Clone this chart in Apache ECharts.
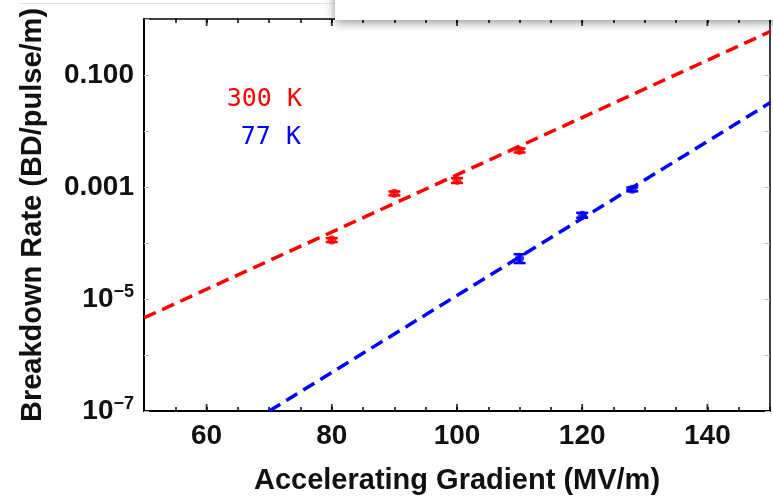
<!DOCTYPE html>
<html>
<head>
<meta charset="utf-8">
<script src="https://cdn.jsdelivr.net/npm/echarts@6/dist/echarts.min.js"></script>
<style>
  html, body { margin: 0; padding: 0; background: #fff; }
  #chart { width: 773px; height: 500px; }
</style>
</head>
<body>
<div id="chart"></div>
<script>
// measured points (gradient MV/m, breakdown rate, relative error)
const warmX = [80, 90, 100, 110];
const warmY = [1.13e-4, 7.7e-4, 1.31e-3, 4.5e-3];
const warmErr = [0.08, 0.08, 0.1, 0.08];

const coldX = [110, 120, 128];
const coldY = [5.35e-5, 3.14e-4, 9.1e-4];
const coldErr = [0.18, 0.1, 0.08];

// dashed fits, given by end points
const warmFit = [[50, 4.6e-6], [150, 0.594]];
const coldFit = [[70, 1e-7], [150, 0.0318]];

const majorTicks = [60, 80, 100, 120, 140];

const RED = '#ff0000';
const BLUE = '#0000ff';
const FONT = '"Liberation Sans", Arial, sans-serif';

const chart = echarts.init(document.getElementById('chart'));

const pts = (xs, ys, es) => xs.map((x, i) => [x, ys[i], es[i]]);

const errBars = (name, data, color) => ({
  name: name,
  type: 'custom',
  silent: true,
  z: 4,
  data: data,
  renderItem: (params, api) => {
    const x = api.value(0), y = api.value(1), e = api.value(2);
    const lo = api.coord([x, y * (1 - e)]);
    const hi = api.coord([x, y * (1 + e)]);
    const w = 6;
    const style = { stroke: color, lineWidth: 2.5 };
    return {
      type: 'group',
      children: [
        { type: 'line', shape: { x1: lo[0], y1: lo[1], x2: hi[0], y2: hi[1] }, style: style },
        { type: 'line', shape: { x1: lo[0] - w, y1: lo[1], x2: lo[0] + w, y2: lo[1] }, style: style },
        { type: 'line', shape: { x1: hi[0] - w, y1: hi[1], x2: hi[0] + w, y2: hi[1] }, style: style }
      ]
    };
  }
});

const yLabel = v => {
  const p = Math.round(Math.log10(v));
  if (p % 2 === 0) return '';
  if (p === -1) return '0.100';
  if (p === -3) return '0.001';
  return '10{sup|\u2212' + (-p) + '}';
};

const option = {
  animation: false,
  grid: { left: 144, right: 1, top: 19, bottom: 88, containLabel: false },
  xAxis: [
    {
      type: 'value', position: 'bottom', min: 50, max: 150, interval: 5,
      name: 'Accelerating Gradient (MV/m)', nameLocation: 'middle', nameGap: 55,
      nameTextStyle: { fontFamily: FONT, fontWeight: 'bold', fontSize: 29, color: '#111' },
      axisLine: { lineStyle: { color: '#000', width: 2 } },
      axisTick: { inside: true, length: 4, lineStyle: { color: '#000', width: 1.5 } },
      axisLabel: {
        margin: 11, fontFamily: FONT, fontWeight: 'bold', fontSize: 28, color: '#111',
        formatter: v => majorTicks.includes(v) ? String(v) : ''
      },
      splitLine: { show: false }
    },
    {
      type: 'value', position: 'top', min: 50, max: 150, interval: 5,
      axisLine: { lineStyle: { color: '#000', width: 1.5 } },
      axisTick: { inside: true, length: 4, lineStyle: { color: '#000', width: 1.5 } },
      axisLabel: { show: false },
      splitLine: { show: false }
    }
  ],
  yAxis: [
    {
      type: 'log', logBase: 10, min: 1e-7, max: 1, interval: 1,
      name: 'Breakdown Rate (BD/pulse/m)', nameLocation: 'middle', nameGap: 97, nameRotate: 90,
      nameTextStyle: { fontFamily: FONT, fontWeight: 'bold', fontSize: 29, color: '#111' },
      axisLine: { lineStyle: { color: '#000', width: 2 } },
      axisTick: { inside: true, length: 5, lineStyle: { color: '#bbb', width: 1 } },
      axisLabel: {
        margin: 10, fontFamily: FONT, fontWeight: 'bold', fontSize: 28, color: '#111',
        formatter: yLabel,
        rich: {
          sup: { fontFamily: FONT, fontWeight: 'bold', fontSize: 18, color: '#111', padding: [0, 0, 14, 0] }
        }
      },
      splitLine: { show: false }
    },
    {
      type: 'log', logBase: 10, min: 1e-7, max: 1, interval: 1, position: 'right',
      axisLine: { show: true, lineStyle: { color: '#000', width: 1.5 } },
      axisTick: { inside: true, length: 5, lineStyle: { color: '#bbb', width: 1 } },
      axisLabel: { show: false },
      splitLine: { show: false }
    }
  ],
  series: [
    {
      name: '300 K fit', type: 'line', data: warmFit, showSymbol: false, silent: true,
      lineStyle: { color: RED, width: 3.5, type: [13, 7] }
    },
    {
      name: '77 K fit', type: 'line', data: coldFit, showSymbol: false, silent: true,
      lineStyle: { color: BLUE, width: 3.5, type: [13, 7] }
    },
    errBars('300 K err', pts(warmX, warmY, warmErr), RED),
    errBars('77 K err', pts(coldX, coldY, coldErr), BLUE),
    {
      name: '300 K', type: 'scatter', data: warmX.map((x, i) => [x, warmY[i]]),
      symbol: 'circle', symbolSize: 9, itemStyle: { color: RED }, z: 5
    },
    {
      name: '77 K', type: 'scatter', data: coldX.map((x, i) => [x, coldY[i]]),
      symbol: 'circle', symbolSize: 9, itemStyle: { color: BLUE }, z: 5
    },
    {
      name: 'major ticks', type: 'scatter', silent: true, clip: false,
      data: majorTicks.map(x => [x, 1e-7]),
      symbol: 'rect', symbolSize: [1.8, 7], symbolOffset: [0, -3.5],
      itemStyle: { color: '#000' }
    },
    {
      name: 'major ticks top', type: 'scatter', silent: true, clip: false,
      data: majorTicks.map(x => [x, 1]),
      symbol: 'rect', symbolSize: [1.8, 7], symbolOffset: [0, 3.5],
      itemStyle: { color: '#000' }
    }
  ],
  graphic: [
    {
      type: 'text', x: 302, y: 99, z: 10,
      style: {
        text: '300 K', fill: RED, fontFamily: '"DejaVu Sans Mono", monospace',
        fontSize: 25, align: 'right', verticalAlign: 'middle'
      }
    },
    {
      type: 'text', x: 301, y: 137, z: 10,
      style: {
        text: '77 K', fill: BLUE, fontFamily: '"DejaVu Sans Mono", monospace',
        fontSize: 25, align: 'right', verticalAlign: 'middle'
      }
    },
    {
      type: 'line', z: 10,
      shape: { x1: 20, y1: 3.5, x2: 335, y2: 3.5 },
      style: { stroke: '#e2e2e2', lineWidth: 1 }
    },
    {
      type: 'rect', z: 100,
      shape: { x: 335, y: -20, width: 460, height: 40 },
      style: { fill: '#fff', shadowBlur: 10, shadowOffsetY: 2, shadowColor: 'rgba(0,0,0,0.45)' }
    }
  ]
};

chart.setOption(option);
window.addEventListener('resize', () => chart.resize());
</script>
</body>
</html>
